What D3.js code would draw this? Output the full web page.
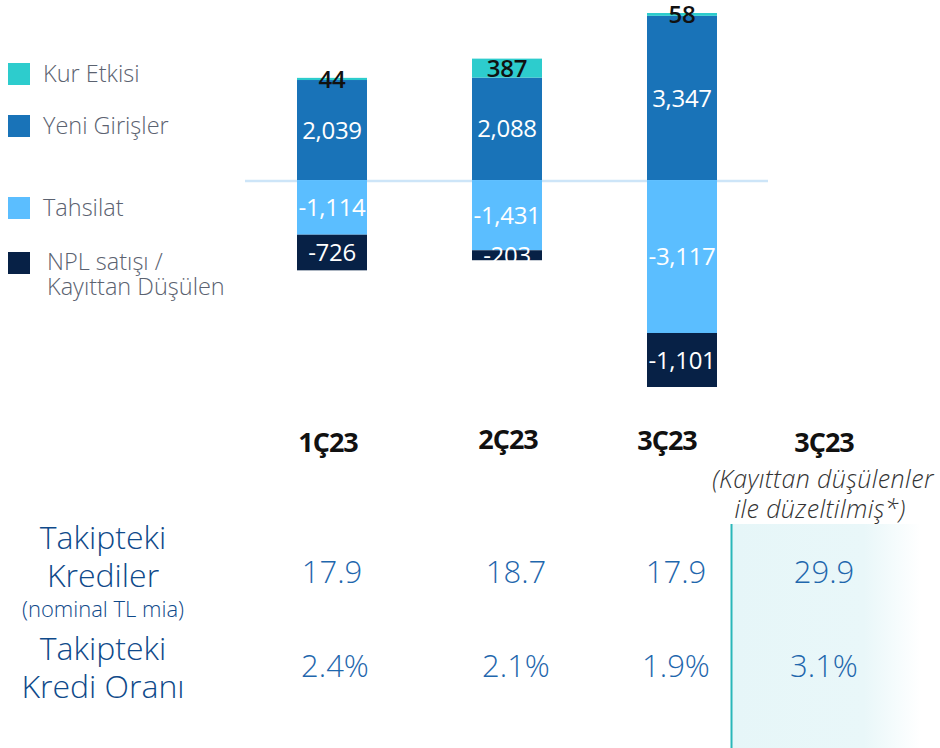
<!DOCTYPE html>
<html>
<head>
<meta charset="utf-8">
<script src="https://cdn.jsdelivr.net/npm/d3@7"></script>
<style>
  body { margin: 0; background: #fff; }
  svg { display: block; font-family: "Open Sans", "Noto Sans", sans-serif; }
</style>
</head>
<body>
<div id="chart"></div>
<script>
// quarters shown as bars
const quarters = ["1Ç23", "2Ç23", "3Ç23"];
// series (top to bottom in legend)
const seriesNames = ["Kur Etkisi", "Yeni Girişler", "Tahsilat", "NPL satışı / Kayıttan Düşülen"];
const kurEtkisi = [44, 387, 58];
const yeniGirisler = [2039, 2088, 3347];
const tahsilat = [-1114, -1431, -3117];
const nplSatisi = [-726, -203, -1101];

// table under the bars
const tableCols = ["1Ç23", "2Ç23", "3Ç23", "3Ç23"];
const tableSub = ["(Kayıttan düşülenler", "ile düzeltilmiş*)"];
const takipKrediler = ["17.9", "18.7", "17.9", "29.9"];
const takipOran = ["2.4%", "2.1%", "1.9%", "3.1%"];

const colors = ["#2dcccd", "#1973b8", "#5bbeff", "#072146"];
const labelColors = ["#111", "#fff", "#fff", "#fff"];

const W = 940, H = 748;
const svg = d3.select("#chart").append("svg").attr("width", W).attr("height", H);

const x = d3.scaleBand().domain(quarters).range([244.5, 769.5]).paddingInner(0.6).paddingOuter(0.3);
const y = d3.scaleLinear().domain([-4218, 3405]).range([387, 13]);
const fmt = d3.formatLocale({ decimal: ".", thousands: ",", grouping: [3], currency: ["", ""], minus: "-" }).format(",");

// build stacks: positives up from zero, negatives down from zero
const stacks = quarters.map((q, i) => {
  const vals = [kurEtkisi[i], yeniGirisler[i], tahsilat[i], nplSatisi[i]];
  const order = [1, 0, 2, 3]; // stacking order from zero outward
  let pos = 0, neg = 0;
  const segs = [];
  order.forEach(k => {
    const v = vals[k];
    let y0, y1;
    if (v >= 0) { y0 = pos; y1 = pos + v; pos = y1; }
    else { y0 = neg; y1 = neg + v; neg = y1; }
    segs.push({ q, k, v, y0, y1 });
  });
  return segs;
}).flat();

svg.append("line")
  .attr("x1", 245).attr("x2", 768)
  .attr("y1", y(0) + 1).attr("y2", y(0) + 1)
  .attr("stroke", "#cde5f8").attr("stroke-width", 2.5);

svg.append("g").selectAll("rect")
  .data(stacks)
  .join("rect")
  .attr("x", d => x(d.q))
  .attr("width", x.bandwidth())
  .attr("y", d => y(Math.max(d.y0, d.y1)))
  .attr("height", d => Math.abs(y(d.y0) - y(d.y1)))
  .attr("fill", d => colors[d.k]);

svg.append("g").selectAll("text")
  .data(stacks)
  .join("text")
  .attr("x", d => x(d.q) + x.bandwidth() / 2)
  .attr("y", d => (y(d.y0) + y(d.y1)) / 2)
  .attr("dy", "0.36em")
  .attr("text-anchor", "middle")
  .attr("font-size", 24)
  .attr("font-weight", d => d.k === 0 ? 600 : 500)
  .attr("letter-spacing", -0.3)
  .attr("fill", d => labelColors[d.k])
  .text(d => fmt(d.v));

// legend
const legendY = [74, 126, 208, 263];
const legend = svg.append("g").selectAll("g")
  .data(seriesNames)
  .join("g")
  .attr("transform", (d, i) => `translate(8,${legendY[i]})`);
legend.append("rect")
  .attr("x", 0).attr("y", -11).attr("width", 22).attr("height", 22)
  .attr("fill", (d, i) => colors[i]);
legend.append("text")
  .attr("x", (d, i) => i === 3 ? 39 : 35)
  .attr("fill", "#5b6270")
  .attr("font-size", 23.5)
  .attr("font-weight", 300)
  .each(function(d) {
    const parts = d.split(" / ");
    const t = d3.select(this);
    if (parts.length === 1) {
      t.append("tspan").attr("dy", "0.36em").text(d);
    } else {
      t.append("tspan").attr("x", 39).attr("dy", "0.3em").text(parts[0] + " /");
      t.append("tspan").attr("x", 39).attr("dy", "1.08em").text(parts[1]);
    }
  });

// highlight panel for adjusted column
const defs = svg.append("defs");
const grad = defs.append("linearGradient").attr("id", "fade").attr("x1", 0).attr("x2", 1);
grad.append("stop").attr("offset", "0%").attr("stop-color", "#e6f6f8");
grad.append("stop").attr("offset", "70%").attr("stop-color", "#e9f7f9");
grad.append("stop").attr("offset", "100%").attr("stop-color", "#ffffff");
svg.append("rect")
  .attr("x", 731).attr("y", 524).attr("width", 190).attr("height", H - 524)
  .attr("fill", "url(#fade)");
svg.append("line")
  .attr("x1", 731.5).attr("x2", 731.5).attr("y1", 524).attr("y2", H)
  .attr("stroke", "#2ab7b9").attr("stroke-width", 2);

// table column centers (fourth column sits in the highlight panel)
const colX = (i) => i < 3 ? x(quarters[i]) + x.bandwidth() / 2 : 824;

svg.append("g").selectAll("text")
  .data(tableCols)
  .join("text")
  .attr("x", (d, i) => colX(i) + [-4, 1, -15, 0][i])
  .attr("y", (d, i) => [452, 449, 450, 452][i])
  .attr("text-anchor", "middle")
  .attr("font-size", 27)
  .attr("font-weight", 700)
  .attr("fill", "#111")
  .attr("letter-spacing", -1)
  .text(d => d);

svg.append("g").selectAll("text")
  .data(tableSub)
  .join("text")
  .attr("x", (d, i) => 823 - i * 3)
  .attr("y", (d, i) => 488 + i * 30)
  .attr("text-anchor", "middle")
  .attr("font-size", 25)
  .attr("font-style", "italic")
  .attr("font-weight", 300)
  .attr("letter-spacing", 0.4)
  .attr("fill", "#333")
  .text(d => d);

// row labels
const rowLabels = [
  { t: "Takipteki", y: 549, s: 32 },
  { t: "Krediler", y: 587, s: 32 },
  { t: "(nominal TL mia)", y: 617, s: 22 },
  { t: "Takipteki", y: 660, s: 32 },
  { t: "Kredi Oranı", y: 698, s: 32 }
];
svg.append("g").selectAll("text")
  .data(rowLabels)
  .join("text")
  .attr("x", 103)
  .attr("y", d => d.y)
  .attr("text-anchor", "middle")
  .attr("font-size", d => d.s)
  .attr("font-weight", 300)
  .attr("fill", "#0f4a8a")
  .text(d => d.t);

[takipKrediler, takipOran].forEach((row, r) => {
  svg.append("g").selectAll("text")
    .data(row)
    .join("text")
    .attr("x", (d, i) => colX(i) + [0, 9, -6, 0][i] + (r === 1 ? [3, 0, 0, 0][i] : 0))
    .attr("y", r === 0 ? 583 : 677)
    .attr("text-anchor", "middle")
    .attr("font-size", 31)
    .attr("font-weight", 300)
    .attr("fill", "#1f67ad")
    .text(d => d);
});
</script>
</body>
</html>
